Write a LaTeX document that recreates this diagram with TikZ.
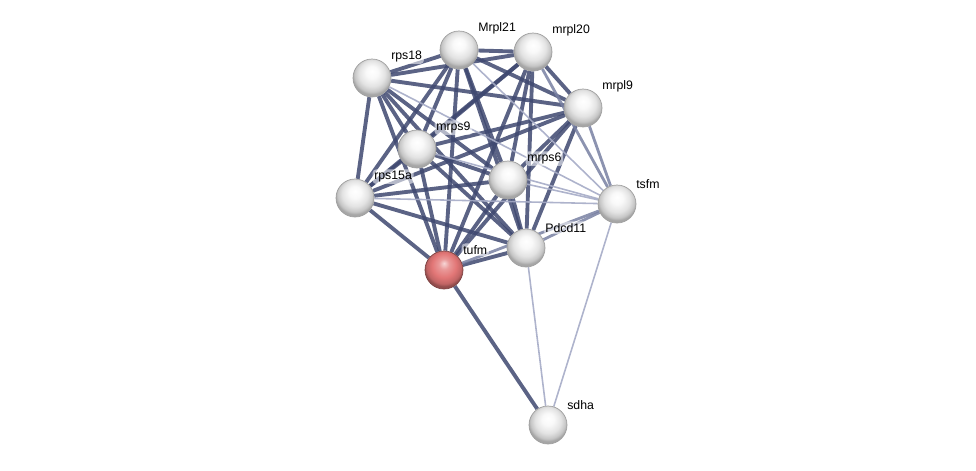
\documentclass[tikz,border=0pt]{standalone}
\usepackage{fontspec}
\setmainfont{Liberation Sans}
\usepackage{tikz}
\usetikzlibrary{backgrounds}

\definecolor{edgedark}{RGB}{62,72,112}
\definecolor{edgemid}{RGB}{120,128,162}
\definecolor{edgelight}{RGB}{165,171,198}
\definecolor{ballred}{RGB}{226,118,118}

\pgfdeclareradialshading{sphere}{\pgfpoint{0bp}{9bp}}{%
  color(0bp)=(white); color(8bp)=(white!95!gray); color(17bp)=(gray!22);
  color(23bp)=(gray!45); color(26bp)=(gray!70); color(50bp)=(gray!70)}
\pgfdeclareradialshading{redsphere}{\pgfpoint{0bp}{9bp}}{%
  color(0bp)=(white!70!ballred); color(7bp)=(white!25!ballred); color(16bp)=(ballred);
  color(23bp)=(ballred!85!black); color(26bp)=(ballred!65!black); color(50bp)=(ballred!65!black)}

\tikzset{
  prot/.style={circle, minimum size=0.76cm, inner sep=0pt, shading=sphere,
    draw=gray!75, line width=0.4pt},
  query/.style={prot, shading=redsphere, draw=ballred!55!black},
  lbl/.style={font=\fontsize{7}{8}\selectfont, inner sep=1pt, label distance=0pt,
    xshift=2pt, fill=white, fill opacity=0.55, text opacity=1, rounded corners=2pt},
  strong/.style={draw=edgedark, line width=2.2pt, opacity=0.85},
  medium/.style={draw=edgemid, line width=1.6pt, opacity=0.85},
  weak/.style={draw=edgelight, line width=0.9pt, opacity=0.9}
}

\begin{document}
\begin{tikzpicture}[x=0.02cm, y=-0.02cm]
    \useasboundingbox (0,0) rectangle (976,470);

    % proteins
    \node[prot, label={[lbl]45:rps18}]   (rps18)  at (372,78)  {};
    \node[prot, label={[lbl]45:Mrpl21}]  (mrpl21) at (459,50)  {};
    \node[prot, label={[lbl]45:mrpl20}]  (mrpl20) at (533,52)  {};
    \node[prot, label={[lbl]45:mrpl9}]   (mrpl9)  at (583,108) {};
    \node[prot, label={[lbl]45:mrps9}]   (mrps9)  at (417,149) {};
    \node[prot, label={[lbl]45:mrps6}]   (mrps6)  at (508,180) {};
    \node[prot, label={[lbl]45:rps15a}]  (rps15a) at (355,198) {};
    \node[prot, label={[lbl]45:tsfm}]    (tsfm)   at (617,204) {};
    \node[prot, label={[lbl]45:Pdcd11}]  (pdcd11) at (526,248) {};
    \node[query, label={[lbl]45:tufm}]   (tufm)   at (444,270) {};
    \node[prot, label={[lbl]45:sdha}]    (sdha)   at (548,425) {};

    % interactions
    \begin{scope}[on background layer]
        \foreach \a/\b in {rps18/mrpl21, rps18/mrpl20, rps18/mrpl9, rps18/mrps9,
                           rps18/mrps6, rps18/rps15a, rps18/pdcd11, rps18/tufm,
                           mrpl21/mrpl20, mrpl21/mrpl9, mrpl21/mrps9, mrpl21/mrps6,
                           mrpl21/rps15a, mrpl21/pdcd11, mrpl21/tufm,
                           mrpl20/mrpl9, mrpl20/mrps9, mrpl20/mrps6, mrpl20/rps15a,
                           mrpl20/pdcd11, mrpl20/tufm,
                           mrpl9/mrps9, mrpl9/mrps6, mrpl9/rps15a, mrpl9/pdcd11, mrpl9/tufm,
                           mrps9/mrps6, mrps9/rps15a, mrps9/pdcd11, mrps9/tufm,
                           mrps6/rps15a, mrps6/pdcd11, mrps6/tufm,
                           rps15a/pdcd11, rps15a/tufm, pdcd11/tufm, tufm/sdha}
            \draw[strong] (\a) -- (\b);
        \foreach \a/\b in {mrpl20/tsfm, mrpl9/tsfm, pdcd11/tsfm, tufm/tsfm}
            \draw[medium] (\a) -- (\b);
        \foreach \a/\b in {rps18/tsfm, mrpl21/tsfm, mrps9/tsfm, mrps6/tsfm,
                           rps15a/tsfm, pdcd11/sdha, tsfm/sdha}
            \draw[weak] (\a) -- (\b);
    \end{scope}
\end{tikzpicture}
\end{document}
